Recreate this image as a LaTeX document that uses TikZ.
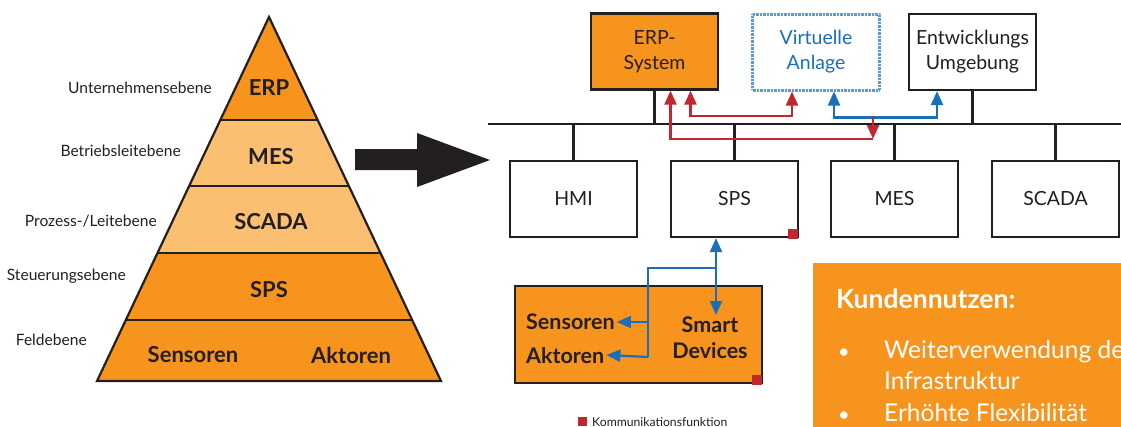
\documentclass[tikz,border=0pt]{standalone}
\usepackage{fontspec}
\setmainfont{Lato}
\usetikzlibrary{arrows.meta,calc}
\definecolor{orng}{HTML}{F7941D}
\definecolor{lorng}{HTML}{FBBF72}
\definecolor{dk}{HTML}{231F20}
\definecolor{rd}{HTML}{C1272D}
\definecolor{bl}{HTML}{1B6EBA}
\definecolor{blb}{HTML}{5A9AD5}
\tikzset{
  tri/.tip={Triangle[length=14pt,width=12pt]},
  band/.style={draw=dk,line width=2.2pt,line join=miter},
  lvl/.style={font=\fontsize{15.6}{18}\selectfont,text=dk,anchor=east,inner sep=0pt},
  pyr/.style={font=\bfseries\fontsize{22}{24}\selectfont,text=dk,inner sep=0pt},
  box/.style={draw=dk,line width=2.2pt,minimum width=127pt,minimum height=76pt,align=center,font=\fontsize{19.5}{25}\selectfont,text=dk,inner sep=0pt},
  stem/.style={draw=dk,line width=2.2pt},
  rline/.style={draw=rd,line width=2.2pt},
  bline/.style={draw=bl,line width=2.2pt},
  sq/.style={fill=rd,inner sep=0pt,minimum size=10pt},
  bolddk/.style={font=\bfseries\fontsize{21.5}{26}\selectfont,text=dk,inner sep=0pt},
  wtxt/.style={text=white,anchor=base west,inner sep=0pt,font=\fontsize{24.5}{28}\selectfont}
}
\begin{document}
\begin{tikzpicture}[x=1pt,y=-1pt]
\useasboundingbox (0,0) rectangle (1121,426);
\clip (0,0) rectangle (1121,426);
% pyramid bands
\fill[orng] (269,17) -- (317.7,120) -- (220.3,120) -- cycle;
\fill[lorng] (220.3,120) -- (317.7,120) -- (348.9,186) -- (189.1,186) -- cycle;
\fill[lorng] (189.1,186) -- (348.9,186) -- (380.5,253) -- (157.5,253) -- cycle;
\fill[orng] (157.5,253) -- (380.5,253) -- (412.2,320) -- (125.8,320) -- cycle;
\fill[orng] (125.8,320) -- (412.2,320) -- (441,381) -- (97,381) -- cycle;
\draw[band] (269,17) -- (441,381) -- (97,381) -- cycle;
\draw[band] (220.3,120) -- (317.7,120);
\draw[band] (189.1,186) -- (348.9,186);
\draw[band] (157.5,253) -- (380.5,253);
\draw[band] (125.8,320) -- (412.2,320);
\node[pyr] (perp) at (269,88) {ERP};
\node[pyr] (pmes) at (271,157) {MES};
\node[pyr] (pscada) at (271,222) {SCADA};
\node[pyr] (psps) at (269,290) {SPS};
\node[pyr] (psens) at (193,355) {Sensoren};
\node[pyr] (pakt) at (351,355) {Aktoren};
\node[lvl] (l1) at (212,88) {Unternehmensebene};
\node[lvl] (l2) at (181,151) {Betriebsleitebene};
\node[lvl] (l3) at (157,221) {Prozess-/Leitebene};
\node[lvl] (l4) at (126,276) {Steuerungsebene};
\node[lvl] (l5) at (87,340) {Feldebene};
% big arrow
\fill[dk] (355,149) -- (417,149) -- (417,133) -- (490,160) -- (417,187) -- (417,170) -- (355,170) -- cycle;
% bus
\coordinate (busL) at (488,124);
\coordinate (busR) at (1121,124);
\draw[stem] (busL) -- (busR);
% upper boxes
\node[box,fill=orng] (erp) at (654.5,51.5) {ERP-\\System};
\node[box,draw=blb,dash pattern=on 0.7pt off 0.7pt,line width=3pt,text=bl] (va) at (816,52) {Virtuelle\\Anlage};
\node[box] (eu) at (972.5,52) {Entwicklungs\\Umgebung};
% lower boxes
\node[box] (hmi) at (573.5,199) {HMI};
\node[box] (sps) at (734.5,199) {SPS};
\node[box] (mes) at (894.5,199) {MES};
\node[box] (scada) at (1055.5,199) {SCADA};
\node[sq,anchor=south east] (sq1) at ([xshift=-1.1pt,yshift=-1.1pt]sps.south east) {};
% stems
\draw[stem] (erp.south) -- (erp.south |- busL);
\draw[stem] (eu.south) -- (eu.south |- busL);
\foreach \n in {hmi,sps,mes,scada} \draw[stem] (\n.north) -- (\n.north |- busL);
% red and blue connections
\draw[bline,{tri}-{tri}] ([xshift=18pt]va.south) -- ++(0,26) -| ([xshift=-35.5pt]eu.south);
\coordinate (j) at ([xshift=57pt]va.south |- 0,116);
\draw[rline,-{tri}] (j) -- ++(0,23) coordinate (jr);
\draw[rline,-{tri}] (jr) -| ([xshift=16pt]erp.south);
\draw[rline,{tri}-{tri}] ([xshift=36pt]erp.south) -- ++(0,25) -| ([xshift=-24pt]va.south);
% smart devices box
\node[draw=dk,line width=2.2pt,fill=orng,minimum width=247pt,minimum height=97pt,inner sep=0pt] (sd) at (638.5,334.5) {};
\node[sq,anchor=south east] (sq2) at ([xshift=-1.1pt,yshift=-1.1pt]sd.south east) {};
\node[bolddk,anchor=west] (sens) at (526,322) {Sensoren};
\node[bolddk,anchor=west] (akt) at (526,356) {Aktoren};
\node[bolddk,align=center] (smart) at (710,338) {Smart\\Devices};
\coordinate (sdtip) at (716,315);
\draw[bline,{tri}-{tri}] ([xshift=-18.5pt]sps.south) -- (sdtip);
\coordinate (k1) at (716,268);
\coordinate (k2) at (648,268);
\draw[bline] (k1) -- (k2) -- (648,357);
\draw[bline,-{tri}] (648,322) -- ([xshift=2pt]sens.east);
\draw[bline,-{tri}] (648,357) -- ([xshift=2pt,yshift=1pt]akt.east);
% legend
\node[sq,minimum size=9pt,anchor=north west] (lsq) at (578,417) {};
\node[anchor=west,inner sep=0pt,font=\fontsize{12.2}{14}\selectfont,text=dk] (ltxt) at (592,422) {Kommunikationsfunktion};
% Kundennutzen
\fill[orng] (813,263) rectangle (1130,440);
\node[text=white,anchor=base west,inner sep=0pt,font=\bfseries\fontsize{26.5}{30}\selectfont] (kt) at (836,308) {Kundennutzen:};
\node[wtxt,font=\fontsize{20}{24}\selectfont] (b1) at (838,358) {•};
\node[wtxt] (t1) at (884,358) {Weiterverwendung de};
\node[wtxt] (t2) at (884,389) {Infrastruktur};
\node[wtxt,font=\fontsize{20}{24}\selectfont] (b2) at (838,421) {•};
\node[wtxt] (t3) at (884,421) {Erhöhte Flexibilität};
\end{tikzpicture}
\end{document}
